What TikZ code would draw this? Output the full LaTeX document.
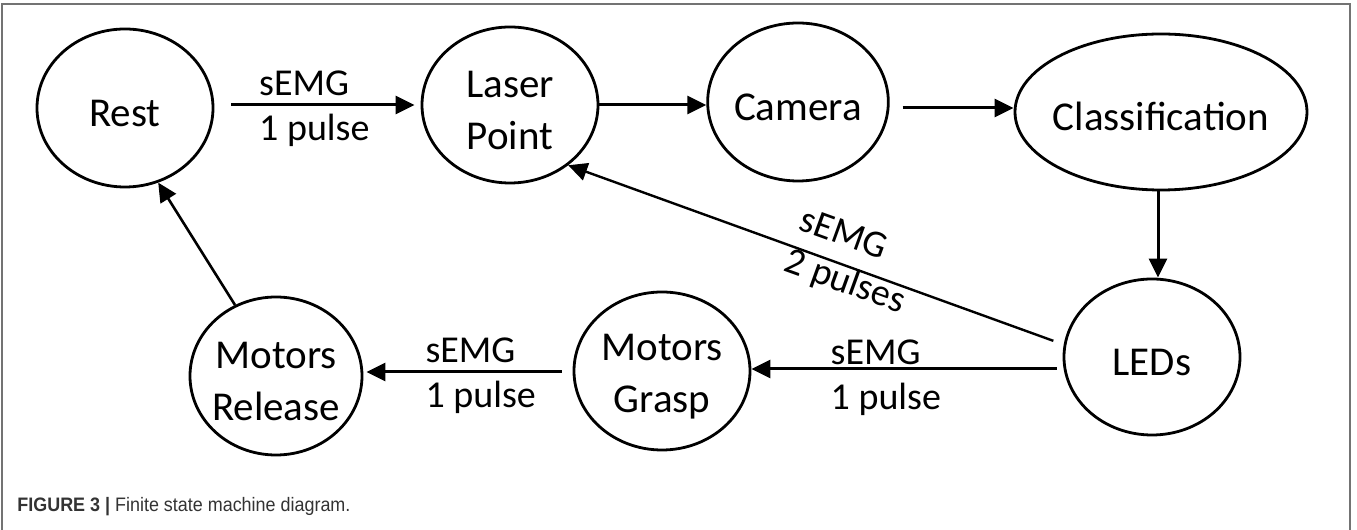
\documentclass[tikz,border=0pt]{standalone}
\usepackage{fontspec}
\setmainfont{Carlito}
\newfontfamily\capfont[FakeStretch=0.92]{Liberation Sans}
\usetikzlibrary{arrows.meta,shapes.geometric}

\begin{document}
\begin{tikzpicture}[
    x=0.5pt, y=0.5pt,
    state/.style={draw, ellipse, line width=1.4pt, inner sep=0pt, align=center,
      text height=18.5pt, font=\fontsize{20.5}{26}\selectfont},
    twoline/.style={text height=44.5pt},
    trans/.style={line width=1.5pt, -{Triangle[length=9.5pt, width=9pt]}},
    lbl/.style={inner sep=0pt, align=left, anchor=west, yshift=-2pt, font=\fontsize{19}{22.5}\selectfont}
  ]
  \useasboundingbox (0,0) rectangle (1357,530);
  \draw[black!55, line width=0.8pt] (2,0) -- (2,526) -- (1350,526) -- (1350,0);

  \node[state, minimum width=88pt, minimum height=79pt] (rest) at (125,422) {Rest};
  \node[state, twoline, minimum width=88pt, minimum height=78pt] (laser) at (510,425) {Laser\\Point};
  \node[state, minimum width=89pt, minimum height=79pt] (camera) at (798,428) {Camera};
  \node[state, minimum width=146pt, minimum height=78pt, inner xsep=-3pt] (class) at (1161,418) {Classification};
  \node[state, minimum width=88pt, minimum height=78pt] (leds) at (1152,173) {LEDs};
  \node[state, twoline, minimum width=88pt, minimum height=79pt] (grasp) at (662,159) {Motors\\Grasp};
  \node[state, twoline, minimum width=86pt, minimum height=79pt, inner xsep=-2pt] (release) at (276,154) {Motors\\Release};

  \draw[trans, shorten <=8.5pt, shorten >=3pt] ([yshift=1.5pt]rest.east) -- node[lbl, pos=0.21] {sEMG\\1 pulse} (laser.west);
  \draw[trans] (laser.east) -- (laser.east -| camera.west);
  \draw[trans, shorten <=6.5pt] ([yshift=-3pt]camera.east) -- ([yshift=2pt]class.west);
  \draw[trans] ([xshift=-1.5pt]class.south) -- ([xshift=-1.5pt]class.south |- leds.north);
  \draw[trans, shorten <=3pt] ([yshift=-6pt]leds.west) -- node[lbl, pos=0.75, yshift=-2.5pt] {sEMG\\1 pulse} ([yshift=1pt]grasp.east);
  \draw[trans, shorten <=5.5pt, shorten >=1.5pt] ([yshift=-0.5pt]grasp.west) -- node[lbl, pos=0.71] {sEMG\\1 pulse} ([yshift=2pt]release.east);
  \draw[trans, line width=1.3pt] (release.120) -- (rest.-66);
  \draw[trans, line width=1.2pt, shorten <=5.5pt] (leds.172) -- node[sloped, pos=0.43, yshift=2.5pt, inner sep=0pt, align=left,
    font=\fontsize{19}{22}\selectfont] {sEMG\\2 pulses} (laser.-46);

  \node[anchor=base west, inner sep=0pt, text=black!80, font=\capfont\fontsize{9.75}{12}\selectfont] (caption) at (17,18)
    {\textbf{FIGURE 3 |} Finite state machine diagram.};
\end{tikzpicture}
\end{document}
